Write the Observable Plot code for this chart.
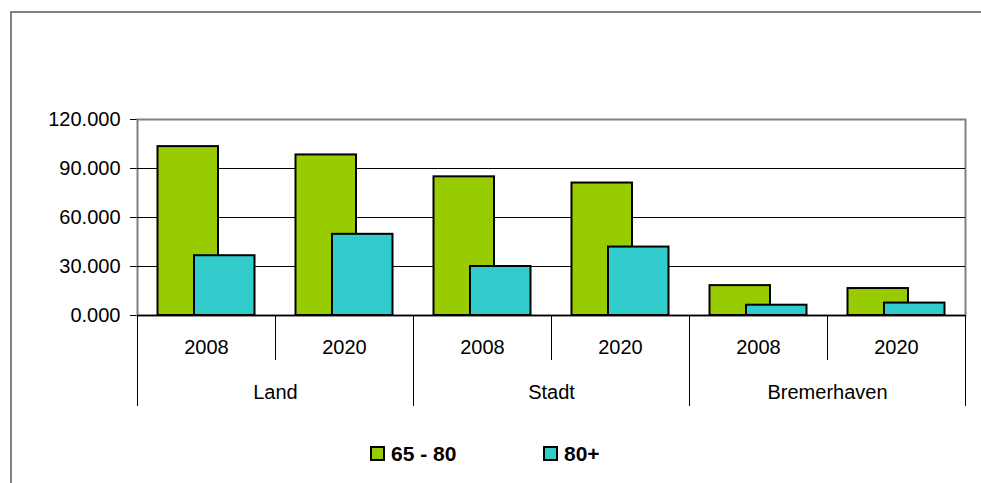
<!DOCTYPE html>
<html>
<head>
<meta charset="utf-8">
<script src="https://cdn.jsdelivr.net/npm/d3@7"></script>
<script src="https://cdn.jsdelivr.net/npm/@observablehq/plot@0.6"></script>
<style>
  html, body { margin: 0; padding: 0; background: #fff; overflow: hidden; }
  #page { position: relative; width: 981px; height: 483px; overflow: hidden; font-family: "Liberation Sans", Arial, sans-serif; }
  #outer { position: absolute; left: 10px; top: 11px; width: 2000px; height: 2000px; border-left: 2px solid #808080; border-top: 2px solid #808080; }
  #main, #cats { position: absolute; left: 0; }
  #main { top: 0; }
  #cats { top: 315px; }
  .sw { position: absolute; top: 446px; width: 15px; height: 15px; box-sizing: border-box; border: 2px solid #000; }
  .lt { position: absolute; top: 443px; font-size: 21px; line-height: 21px; font-weight: bold; color: #000; white-space: nowrap; }
</style>
</head>
<body>
<div id="page">
  <div id="outer"></div>
  <div id="main"></div>
  <div id="cats"></div>
  <div id="legend"></div>
</div>
<script>
// ---- data ----
const regions = ["Land", "Stadt", "Bremerhaven"];
const years = ["2008", "2020"];
const seriesNames = ["65 - 80", "80+"];
const age65to80 = [103400, 98300, 84900, 81100, 18300, 16500];
const age80plus = [36600, 49700, 30000, 41900, 6300, 7600];
const yTicks = [0, 30000, 60000, 90000, 120000];
const yTickLabels = ["0.000", "30.000", "60.000", "90.000", "120.000"];
const colors = ["#99CC00", "#33CCCC"];

const rows = [];
regions.forEach((r, ri) => years.forEach((y, yi) => {
  const i = ri * years.length + yi;
  rows.push({key: r + "|" + y, region: r, year: y, a: age65to80[i], b: age80plus[i]});
}));
const keys = rows.map(d => d.key);

const W = 981, ML = 137, MR = 16;
const bw = (W - ML - MR) / keys.length;
const font = "'Liberation Sans', Arial, sans-serif";
const style = {fontFamily: font, fontSize: "20px", background: "transparent", color: "#000", overflow: "visible"};

const main = Plot.plot({
  width: W, height: 316, marginTop: 119, marginBottom: 1, marginLeft: ML, marginRight: MR,
  style,
  x: {type: "band", domain: keys, padding: 0, axis: null},
  y: {domain: [0, 120000], ticks: yTicks, tickFormat: d => yTickLabels[yTicks.indexOf(d)], tickSize: 7, tickPadding: 10, label: null, line: true},
  marks: [
    Plot.frame({stroke: "#808080", strokeWidth: 2}),
    Plot.ruleY(yTicks.slice(1, -1), {stroke: "#000", strokeWidth: 1}),
    Plot.barY(rows, {x: "key", y: "a", fill: colors[0], stroke: "#000", strokeWidth: 2, insetLeft: 20.5, insetRight: 57}),
    Plot.barY(rows, {x: "key", y: "b", fill: colors[1], stroke: "#000", strokeWidth: 2, insetLeft: 57, insetRight: 20.5}),
    Plot.ruleY([0], {stroke: "#000", strokeWidth: 1.5})
  ]
});
document.getElementById("main").appendChild(main);

const cats = Plot.plot({
  width: W, height: 91, marginTop: 0, marginBottom: 0, marginLeft: ML, marginRight: MR,
  style,
  x: {type: "band", domain: keys, padding: 0, axis: null},
  marks: [
    Plot.ruleX(rows.filter(d => d.year === years[1]), {x: "key", dx: -bw / 2, insetBottom: 46, stroke: "#000"}),
    Plot.ruleX(rows.filter(d => d.year === years[0]), {x: "key", dx: -bw / 2, stroke: "#000"}),
    Plot.ruleX([keys[keys.length - 1]], {x: d => d, dx: bw / 2, stroke: "#000"}),
    Plot.text(rows, {x: "key", text: "year", frameAnchor: "top", dy: 38, lineAnchor: "bottom", fill: "#000"}),
    Plot.text(rows.filter(d => d.year === years[1]), {x: "key", text: "region", dx: -bw / 2, frameAnchor: "top", dy: 83, lineAnchor: "bottom", fill: "#000"})
  ]
});
document.getElementById("cats").appendChild(cats);

// legend
const legend = document.getElementById("legend");
const swLeft = [370, 543];
seriesNames.forEach((name, i) => {
  const sw = document.createElement("div");
  sw.className = "sw";
  sw.style.left = swLeft[i] + "px";
  sw.style.background = colors[i];
  legend.appendChild(sw);
  const t = document.createElement("div");
  t.className = "lt";
  t.style.left = (swLeft[i] + 21) + "px";
  t.textContent = name;
  legend.appendChild(t);
});
</script>
</body>
</html>
